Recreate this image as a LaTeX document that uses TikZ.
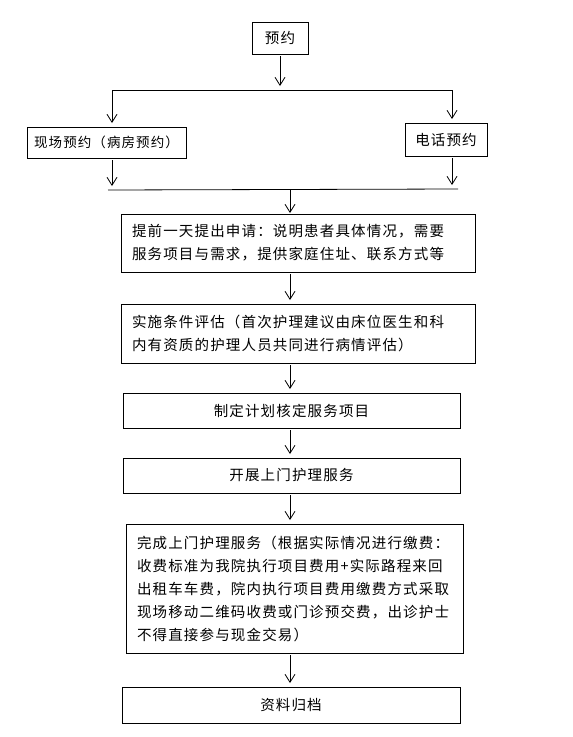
\documentclass[tikz,border=0pt]{standalone}
\usepackage{fontspec}
\newfontfamily\cjk{Noto Sans CJK SC}[LetterSpace=8]
\usetikzlibrary{arrows.meta}
\tikzset{
  box/.style={draw, line width=0.8pt, inner sep=0pt, outer sep=0pt, font=\cjk\fontsize{14.5}{23}\selectfont},
  wide/.style={box, inner xsep=11pt, align=left},
  arr/.style={draw, line width=0.8pt, -{Straight Barb[length=8pt,width=10pt]}, shorten <=2pt, shorten >=4pt}
}
\begin{document}
\begin{tikzpicture}[x=1pt,y=-1pt]
\useasboundingbox (0,0) rectangle (573,737);

\node[box, minimum width=56pt, minimum height=32pt] (yy) at (280,38) {预约};
\node[box, minimum width=159pt, minimum height=31pt, font=\cjk\fontsize{13.5}{23}\selectfont] (xc) at (106.5,142.5) {现场预约（病房预约）};
\node[box, minimum width=82pt, minimum height=33pt] (dh) at (446,139.5) {电话预约};

\node[wide, text width=332pt, minimum height=58pt] (b1) at (298,243)
  {提前一天提出申请：说明患者具体情况，需要\\服务项目与需求，提供家庭住址、联系方式等};
\node[wide, text width=332pt, minimum height=59pt] (b2) at (298,333.5)
  {实施条件评估（首次护理建议由床位医生和科\\内有资质的护理人员共同进行病情评估）};
\node[box, minimum width=337pt, minimum height=35pt] (b3) at (291.5,410.5) {制定计划核定服务项目};
\node[box, minimum width=337pt, minimum height=35pt] (b4) at (291.5,475.5) {开展上门护理服务};
\node[wide, text width=315pt, minimum height=129pt] (b5) at (294.5,588.5)
  {完成上门护理服务（根据实际情况进行缴费：\\收费标准为我院执行项目费用+实际路程来回\\出租车车费，院内执行项目费用缴费方式采取\\现场移动二维码收费或门诊预交费，出诊护士\\不得直接参与现金交易）};
\node[box, minimum width=338pt, minimum height=36pt] (b6) at (291,705) {资料归档};

% split and merge lines
\coordinate (tL) at (112,90);
\coordinate (tR) at (452,90);
\coordinate (bL) at (108,190);
\coordinate (bR) at (458,189);
\coordinate (m) at (290,190);

\draw[line width=0.8pt] (tL) -- (tR);
\draw[arr] (yy.south) -- (yy.south |- tL);
\draw[arr, shorten <=0pt] (tL) -- (tL |- xc.north);
\draw[arr, shorten <=0pt] (tR) -- (tR |- dh.north);
\draw[arr] (tL |- xc.south) -- (tL |- bL);
\draw[arr] (tR |- dh.south) -- (tR |- bR);
\draw[line width=0.8pt] (bL) -- (bR);
\draw[arr, shorten <=0pt, shorten >=1pt] (m) -- (m |- b1.north);

\foreach \a/\b in {b1/b2,b2/b3,b3/b4,b4/b5,b5/b6}
  \draw[arr] (m |- \a.south) -- (m |- \b.north);

\end{tikzpicture}
\end{document}
